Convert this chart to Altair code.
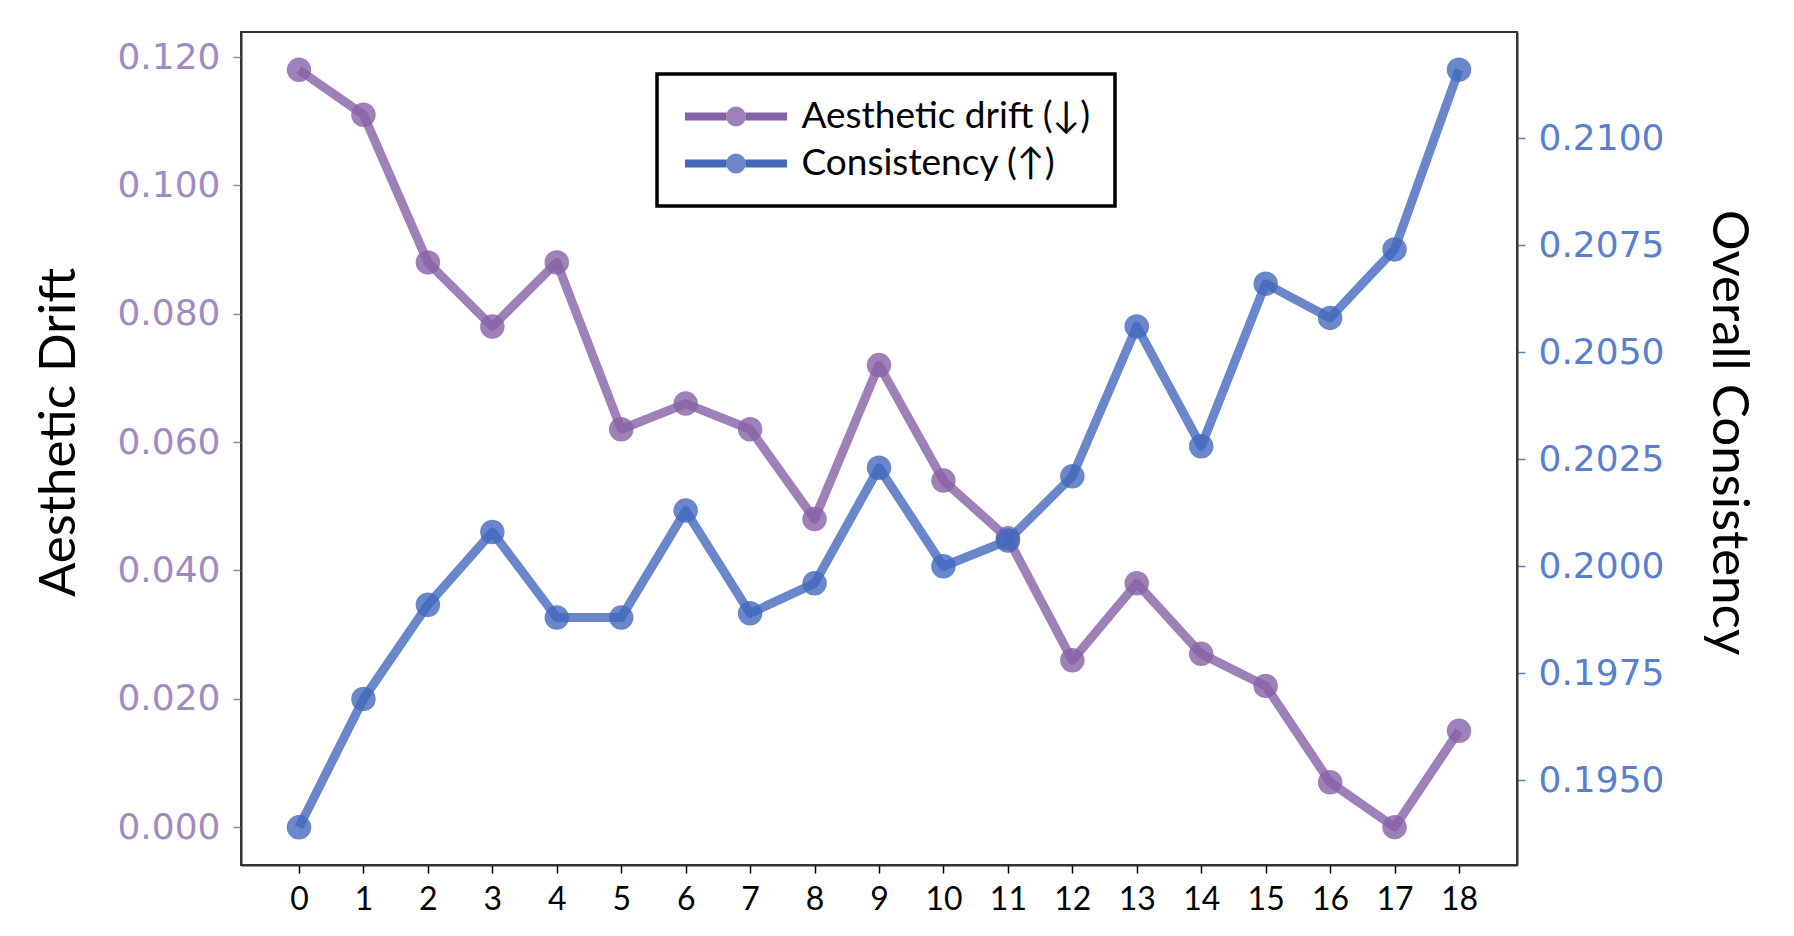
import altair as alt
import pandas as pd

steps = list(range(19))
drift = [0.118, 0.111, 0.088, 0.078, 0.088, 0.062, 0.066, 0.062, 0.048, 0.072,
         0.054, 0.045, 0.026, 0.038, 0.027, 0.022, 0.007, 0.000, 0.015]
consistency = [0.1939, 0.1969, 0.1991, 0.2008, 0.1988, 0.1988, 0.2013, 0.1989, 0.1996, 0.2023,
               0.2000, 0.2006, 0.2021, 0.2056, 0.2028, 0.2066, 0.2058, 0.2074, 0.2116]
series_names = ["Aesthetic drift (↓)", "Consistency (↑)"]
marker_names = ["drift marker", "consistency marker"]
series_colors = ["#8762a7", "#4369bd"]
left_ticks = [0.0, 0.02, 0.04, 0.06, 0.08, 0.10, 0.12]
right_ticks = [0.195, 0.1975, 0.2, 0.2025, 0.205, 0.2075, 0.21]

df_d = pd.DataFrame({"step": steps, "value": drift,
                     "series": series_names[0], "marker": marker_names[0]})
df_c = pd.DataFrame({"step": steps, "value": consistency,
                     "series": series_names[1], "marker": marker_names[1]})

x_enc = alt.X("step:Q",
              scale=alt.Scale(domain=[-0.9, 18.9], nice=False, zero=False),
              axis=alt.Axis(values=steps, format="d", title=None, grid=False,
                            labelFont="Lato", labelFontSize=32, labelColor="black",
                            tickColor="black", tickSize=8, tickWidth=1.5, labelPadding=11,
                            domainColor="#333", domainWidth=2))

stroke_scale = alt.Scale(domain=series_names, range=series_colors)
fill_scale = alt.Scale(domain=marker_names, range=series_colors)

legend_common = dict(orient="none", legendX=416, legendY=42, title=None, direction="vertical",
                     labelFont="Lato", labelFontSize=37, labelColor="black", labelLimit=0,
                     padding=24, rowPadding=9)

legend_lines = alt.Legend(symbolType="M-3.78,0L-0.7,0M0.7,0L3.78,0", symbolSize=729,
                          symbolStrokeWidth=8, symbolOpacity=1, symbolOffset=36.5, labelOffset=47,
                          strokeColor="black", **legend_common)
legend_dots = alt.Legend(symbolType="circle", symbolSize=400, symbolStrokeWidth=0, symbolOpacity=0.8,
                         symbolOffset=36.5, labelOffset=47, labelExpr="''", **legend_common)

y_left = alt.Y("value:Q",
               scale=alt.Scale(domain=[-0.0059, 0.1239], nice=False, zero=False),
               axis=alt.Axis(values=left_ticks, format=".3f", grid=False,
                             labelFont="DejaVu Sans", labelFontSize=36, labelColor="#a28ac0",
                             tickColor="#9a84b5", tickSize=8, tickWidth=1.5, labelPadding=13,
                             domainColor="#333", domainWidth=2,
                             title="Aesthetic Drift", titleFont="Lato", titleFontSize=51,
                             titleFontWeight="normal", titleColor="black", titleAngle=270,
                             titleBaseline="alphabetic", titleX=-167, titleY=400))

y_right = alt.Y("value:Q",
                scale=alt.Scale(domain=[0.19302, 0.21248], nice=False, zero=False),
                axis=alt.Axis(values=right_ticks, format=".4f", grid=False, orient="right",
                              labelFont="DejaVu Sans", labelFontSize=36, labelColor="#5a7fcc",
                              tickColor="#5a7fcc", tickSize=8, tickWidth=1.5, labelPadding=13,
                              domainColor="#333", domainWidth=2,
                              title="Overall Consistency", titleFont="Lato", titleFontSize=51,
                              titleFontWeight="normal", titleColor="black", titleAngle=90,
                              titleBaseline="alphabetic", titleX=195, titleY=400))

def series_layer(df, y):
    line = alt.Chart(df).mark_line(strokeWidth=9, opacity=0.8, strokeJoin="round").encode(
        x=x_enc, y=y,
        stroke=alt.Stroke("series:N", scale=stroke_scale, legend=legend_lines))
    pts = alt.Chart(df).mark_circle(size=600, opacity=0.8).encode(
        x=x_enc, y=y,
        fill=alt.Fill("marker:N", scale=fill_scale, legend=legend_dots))
    return alt.layer(line, pts)

chart = alt.layer(series_layer(df_d, y_left), series_layer(df_c, y_right)).resolve_scale(
    y="independent"
).properties(
    width=1276, height=833,
    autosize=alt.AutoSizeParams(type="none"),
    padding={"left": 233, "top": 24, "right": 269, "bottom": 60},
    background="white",
).configure_view(stroke="#333", strokeWidth=2).configure_legend(strokeWidth=3.5)

chart.save("out.html", embed_options={"renderer": "svg", "actions": False})
